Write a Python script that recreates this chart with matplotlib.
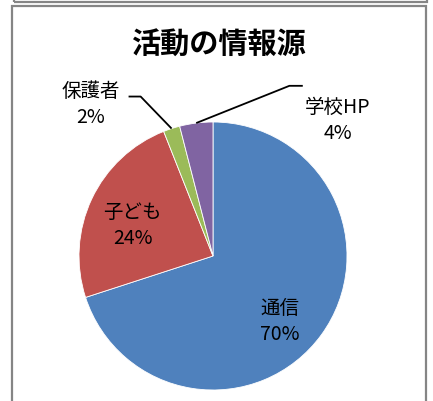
import matplotlib.pyplot as plt
from matplotlib.patches import Rectangle
import numpy as np

plt.rcParams['font.family'] = ['Noto Sans CJK JP', 'DejaVu Sans']

labels = ['通信', '子ども', '保護者', '学校HP']
shares = [70, 24, 2, 4]
colors = ['#4F81BD', '#C0504D', '#9BBB59', '#8064A2']

# label block centres (data units, pie radius = 1)
label_pos = [(0.50, -0.49), (-0.60, 0.23), (-0.91, 1.13), (0.93, 1.01)]
# elbow of leader lines for the small slices
elbows = {2: [(-0.63, 1.19), (-0.54, 1.19)], 3: [(0.67, 1.27), (0.57, 1.27)]}

W, H = 433, 401
fig = plt.figure(figsize=(W / 100, H / 100), dpi=100)
ax = fig.add_axes([0, 0, 1, 1])

cx, cy, r = 213, 256, 134
wedges, _ = ax.pie(shares, colors=colors, startangle=90, counterclock=False,
                   radius=1, center=(0, 0),
                   wedgeprops=dict(edgecolor='white', linewidth=0.6))
ax.set_aspect('auto')
ax.set_xlim((0 - cx) / r, (W - cx) / r)
ax.set_ylim((cy - H) / r, cy / r)
ax.axis('off')

for i, w in enumerate(wedges):
    pct = f'{shares[i]}%'
    x, y = label_pos[i]
    ax.text(x, y, f'{labels[i]}\n{pct}', ha='center', va='center',
            fontsize=14, linespacing=1.3, color='black')
    if i in elbows:
        mid = np.deg2rad((w.theta1 + w.theta2) / 2)
        pts = elbows[i] + [(np.cos(mid), np.sin(mid))]
        xs, ys = zip(*pts)
        ax.plot(xs, ys, color='black', lw=1.3, solid_capstyle='butt')

fig.text(219 / W, 1 - 45 / H, '活動の情報源', ha='center', va='center',
         fontsize=21, fontweight='bold')

# chart frames
frame = '#858585'
fig.patches.append(Rectangle((11.5 / W, -0.1), 414.5 / W, 1 - 6 / H + 0.1,
                             transform=fig.transFigure, fill=False,
                             edgecolor=frame, lw=1.6))
fig.patches.append(Rectangle((13.5 / W, 1 - 2 / H), 413.5 / W, 0.2,
                             transform=fig.transFigure, fill=False,
                             edgecolor=frame, lw=1.6))

fig.savefig('out.png', dpi=100)
